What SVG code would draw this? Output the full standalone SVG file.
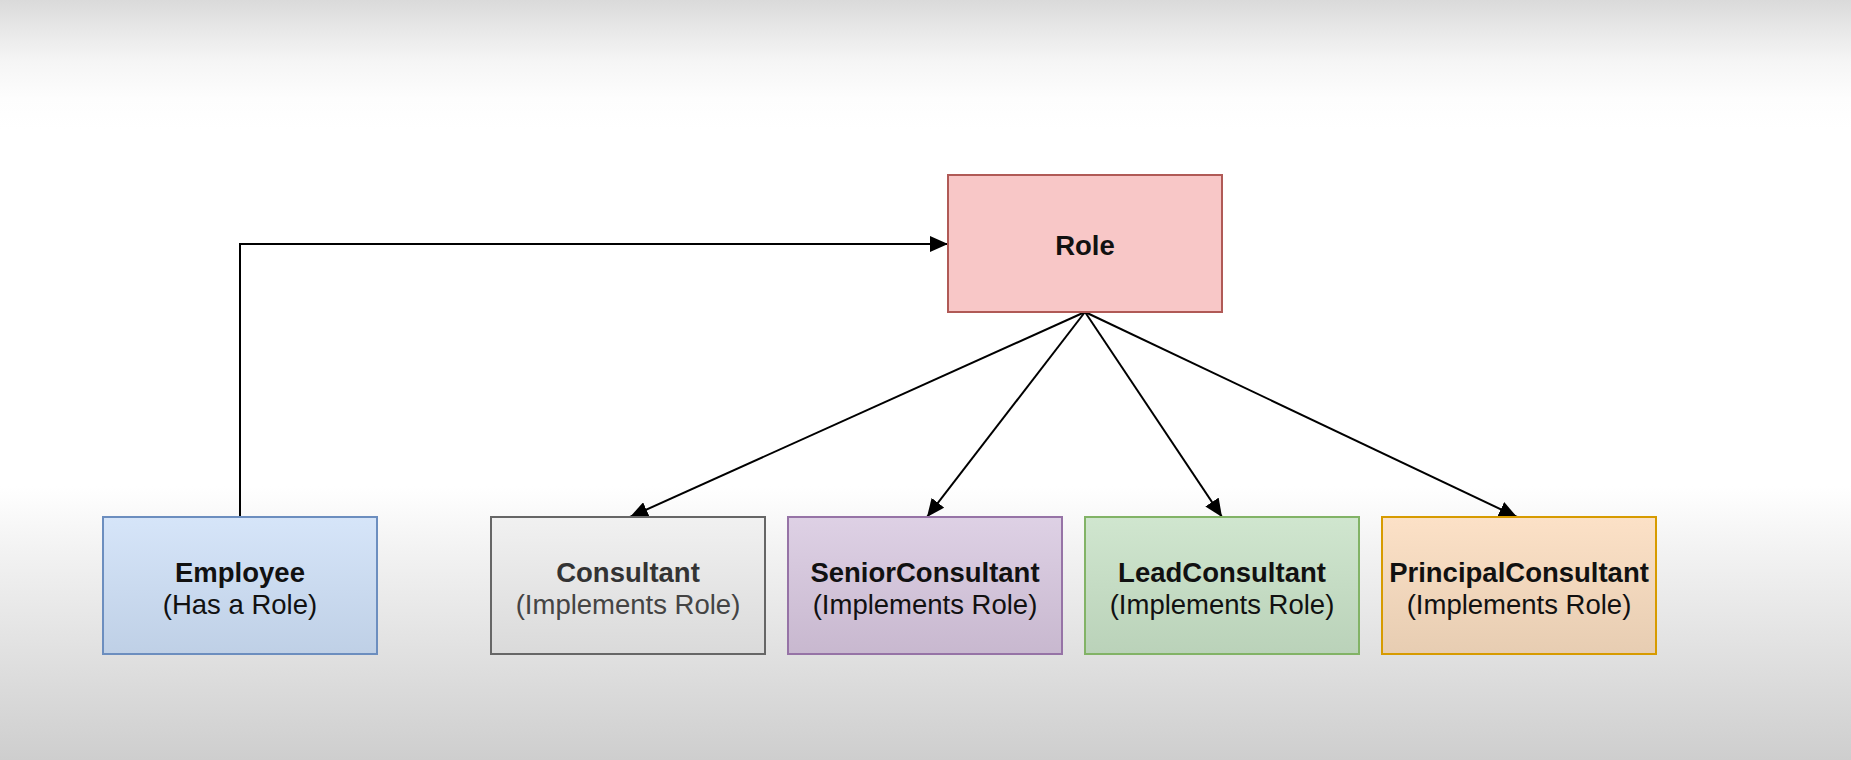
<svg xmlns="http://www.w3.org/2000/svg" width="1851" height="760" viewBox="0 0 1851 760">
<defs>
<linearGradient id="bg" x1="0" y1="0" x2="0" y2="1">
<stop offset="0" stop-color="#dadada"/>
<stop offset="0.04" stop-color="#e8e8e8"/>
<stop offset="0.08" stop-color="#f5f5f5"/>
<stop offset="0.13" stop-color="#fdfdfd"/>
<stop offset="0.17" stop-color="#ffffff"/>
<stop offset="0.64" stop-color="#ffffff"/>
<stop offset="0.72" stop-color="#f3f3f3"/>
<stop offset="1" stop-color="#cecece"/>
</linearGradient>
<linearGradient id="gEmp" x1="0" y1="0" x2="0" y2="1"><stop offset="0" stop-color="#d6e5f9"/><stop offset="1" stop-color="#bfd0e6"/></linearGradient>
<linearGradient id="gCon" x1="0" y1="0" x2="0" y2="1"><stop offset="0" stop-color="#f1f1f1"/><stop offset="1" stop-color="#dadada"/></linearGradient>
<linearGradient id="gSen" x1="0" y1="0" x2="0" y2="1"><stop offset="0" stop-color="#ded1e5"/><stop offset="1" stop-color="#c8b8cf"/></linearGradient>
<linearGradient id="gLead" x1="0" y1="0" x2="0" y2="1"><stop offset="0" stop-color="#d0e6cf"/><stop offset="1" stop-color="#bad2b9"/></linearGradient>
<linearGradient id="gPri" x1="0" y1="0" x2="0" y2="1"><stop offset="0" stop-color="#fce1c7"/><stop offset="1" stop-color="#e7cdb2"/></linearGradient>
<marker id="arr" viewBox="0 0 18 16" refX="18" refY="8" markerWidth="18" markerHeight="16" markerUnits="userSpaceOnUse" orient="auto">
<path d="M0,0 L18,8 L0,16 z" fill="#000"/>
</marker>
<style>
.box{stroke-width:2}
.t{font-family:"Liberation Sans",Arial,sans-serif;font-size:27.5px;text-anchor:middle;fill:#111}
.b{font-weight:bold}
.edge{fill:none;stroke:#000;stroke-width:2;marker-end:url(#arr)}
</style>
</defs>
<rect x="0" y="0" width="1851" height="760" fill="url(#bg)"/>
<g id="connectors">
<path class="edge" d="M240,517 V244 H948"/>
<path class="edge" d="M1085,312 L630,517"/>
<path class="edge" d="M1085,312 L927,517"/>
<path class="edge" d="M1085,312 L1222,517"/>
<path class="edge" d="M1085,312 L1517,517"/>
</g>
<g id="role">
<rect class="box" x="948" y="175" width="274" height="137" fill="#f8c7c7" stroke="#b05a56"/>
<text class="t b" x="1085" y="255">Role</text>
</g>
<g id="employee">
<rect class="box" x="103" y="517" width="274" height="137" fill="url(#gEmp)" stroke="#6c8ebf"/>
<text class="t b" x="240" y="582">Employee</text>
<text class="t" x="240" y="614">(Has a Role)</text>
</g>
<g id="consultant">
<rect class="box" x="491" y="517" width="274" height="137" fill="url(#gCon)" stroke="#666666"/>
<text class="t b" x="628" y="582" style="fill:#333">Consultant</text>
<text class="t" x="628" y="614" style="fill:#444">(Implements Role)</text>
</g>
<g id="seniorconsultant">
<rect class="box" x="788" y="517" width="274" height="137" fill="url(#gSen)" stroke="#9673a6"/>
<text class="t b" x="925" y="582">SeniorConsultant</text>
<text class="t" x="925" y="614">(Implements Role)</text>
</g>
<g id="leadconsultant">
<rect class="box" x="1085" y="517" width="274" height="137" fill="url(#gLead)" stroke="#82b366"/>
<text class="t b" x="1222" y="582">LeadConsultant</text>
<text class="t" x="1222" y="614">(Implements Role)</text>
</g>
<g id="principalconsultant">
<rect class="box" x="1382" y="517" width="274" height="137" fill="url(#gPri)" stroke="#d79b00"/>
<text class="t b" x="1519" y="582">PrincipalConsultant</text>
<text class="t" x="1519" y="614">(Implements Role)</text>
</g>
</svg>
